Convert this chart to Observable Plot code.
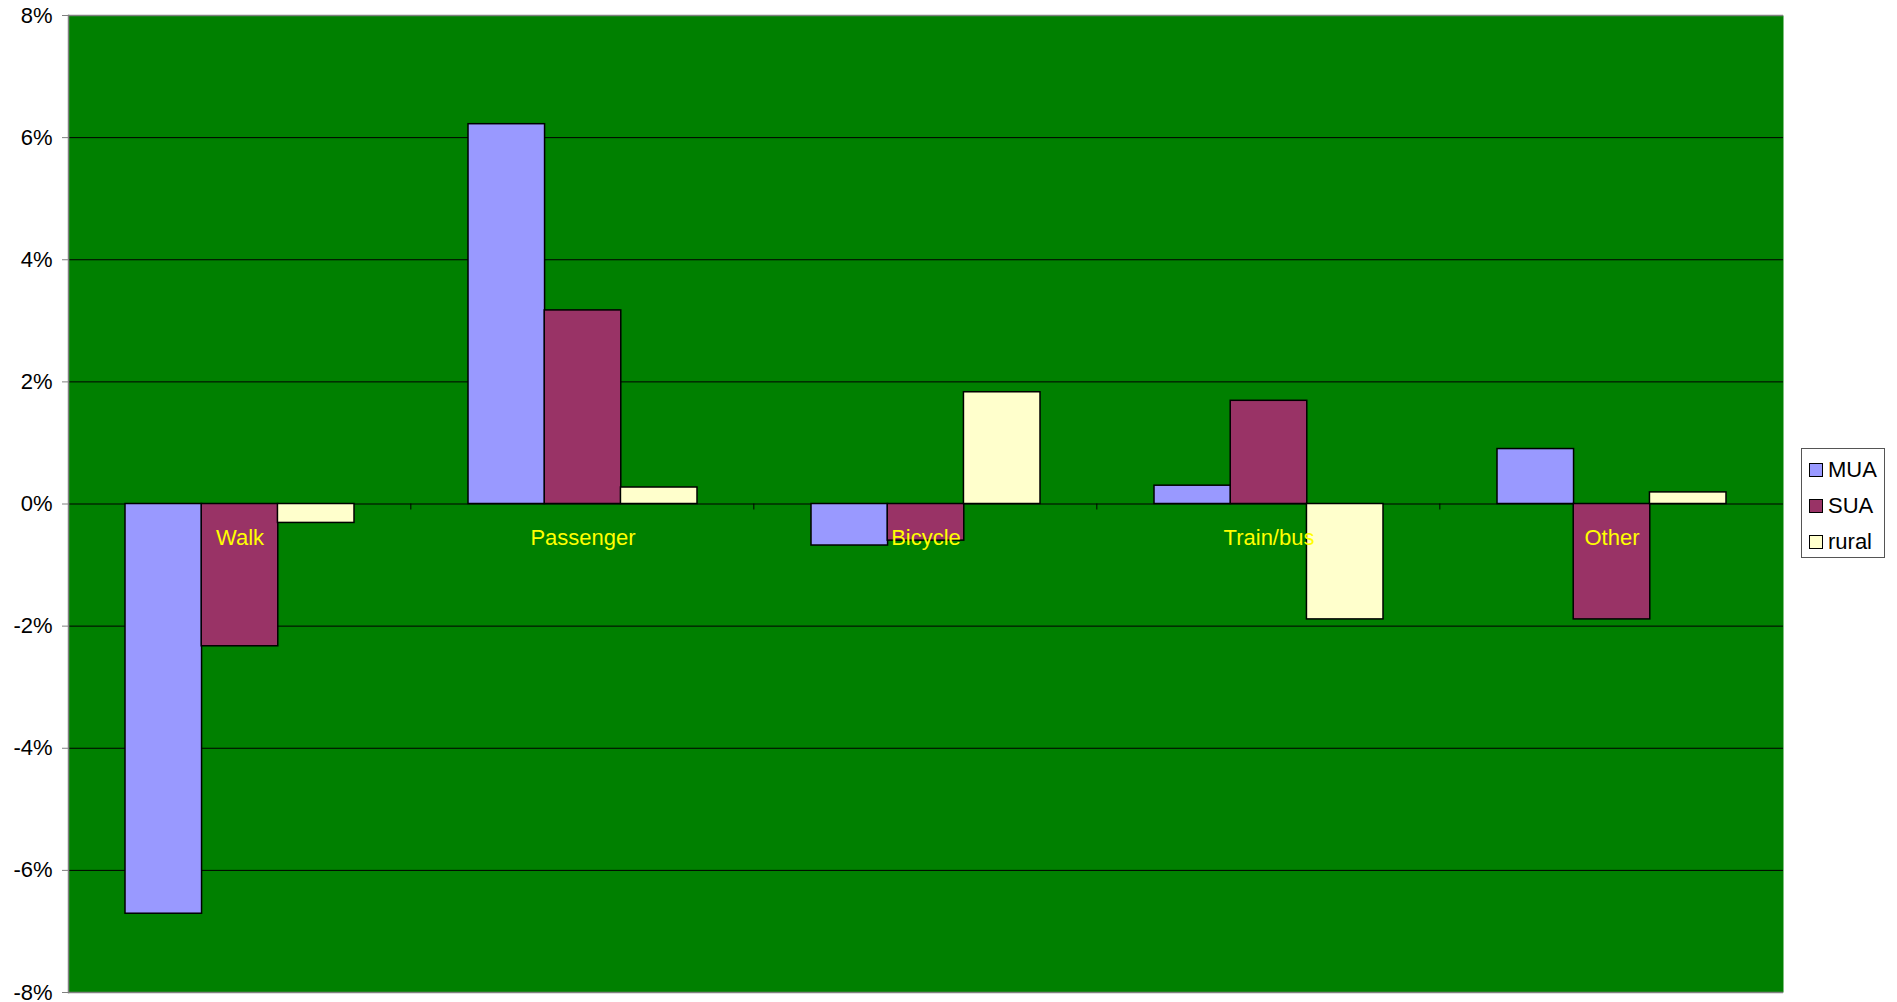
<!DOCTYPE html>
<html>
<head>
<meta charset="utf-8">
<script src="https://cdn.jsdelivr.net/npm/d3@7"></script>
<script src="https://cdn.jsdelivr.net/npm/@observablehq/plot@0.6"></script>
<style>
  html, body { margin: 0; padding: 0; background: #fff; }
  #wrap { position: relative; width: 1897px; height: 1002px; font-family: "Liberation Sans", Arial, sans-serif; }
  #chart svg { overflow: visible; }
  #legend { position: absolute; left: 1801px; top: 448px; width: 82px; height: 108px; border: 1px solid #555; background: #fff; box-sizing: content-box; }
  .item { position: absolute; left: 7px; height: 24px; display: flex; align-items: center; font-size: 22px; color: #000; }
  .sw { width: 12px; height: 12px; border: 1px solid #000; margin-right: 5px; }
</style>
</head>
<body>
<div id="wrap"><div id="chart"></div><div id="legend"></div></div>
<script>
const categories = ["Walk", "Passenger", "Bicycle", "Train/bus", "Other"];
const seriesNames = ["MUA", "SUA", "rural"];
const mua   = [-6.71, 6.22, -0.68, 0.30, 0.90];
const sua   = [-2.33, 3.17, -0.60, 1.69, -1.89];
const rural = [-0.31, 0.27, 1.83, -1.89, 0.19];
const yTicks = [-8, -6, -4, -2, 0, 2, 4, 6, 8];
const gridValues = [-6, -4, -2, 0, 2, 4, 6];
const colors = {MUA: "#9999FF", SUA: "#993366", rural: "#FFFFCC"};

const W = 1897, H = 1002;
const mL = 68, mR = 114, mT = 15, mB = 10;
const step = (W - mL - mR) / categories.length;
const bandW = step * (2 / 3);
const bw = bandW / 3;

const seriesValues = {MUA: mua, SUA: sua, rural: rural};
const tables = seriesNames.map(s => categories.map((c, i) => ({cat: c, series: s, value: seriesValues[s][i]})));

const insets = [
  {insetLeft: 0, insetRight: 2 * bw},
  {insetLeft: bw, insetRight: bw},
  {insetLeft: 2 * bw, insetRight: 0}
];

function boundaryTicks(index, scales, values, dimensions) {
  const g = document.createElementNS("http://www.w3.org/2000/svg", "g");
  const y0 = scales.y(0);
  for (let i = 0; i < categories.length - 1; i++) {
    const xb = (scales.x(categories[i]) + scales.x(categories[i + 1]) + bandW) / 2;
    const l = document.createElementNS("http://www.w3.org/2000/svg", "line");
    l.setAttribute("x1", xb); l.setAttribute("x2", xb);
    l.setAttribute("y1", y0); l.setAttribute("y2", y0 + 6);
    l.setAttribute("stroke", "#000");
    g.appendChild(l);
  }
  return g;
}

const chart = Plot.plot({
  width: W, height: H,
  marginLeft: mL, marginRight: mR, marginTop: mT, marginBottom: mB,
  style: {fontFamily: "'Liberation Sans', Arial, sans-serif", fontSize: "22px", background: "white", color: "black", overflow: "visible"},
  x: {domain: categories, paddingInner: 1 / 3, paddingOuter: 1 / 6, axis: null},
  y: {domain: [-8, 8], label: null},
  marks: [
    Plot.frame({fill: "#008000"}),
    Plot.ruleY(gridValues, {stroke: "#000", strokeWidth: 1}),
    Plot.ruleY([-8, 8], {stroke: "#808080", strokeWidth: 1.5}),
    Plot.frame({anchor: "left", stroke: "#808080", strokeWidth: 1.5}),
    boundaryTicks,
    ...tables.map((t, k) => Plot.barY(t, {
      x: "cat", y: "value", fill: colors[seriesNames[k]],
      stroke: "#000", strokeWidth: 1.5, ...insets[k]
    })),
    Plot.text(categories, {x: d => d, y: () => 0, dy: 34, text: d => d, fill: "#FFFF00", fontSize: 22}),
    Plot.axisY({ticks: yTicks, tickFormat: d => d + "%", tickSize: 6, tickPadding: 10, stroke: "#808080", fontSize: 22, label: null})
  ]
});
document.getElementById("chart").appendChild(chart);

const legend = document.getElementById("legend");
seriesNames.forEach((s, i) => {
  const it = document.createElement("div");
  it.className = "item";
  it.style.top = (9 + i * 36) + "px";
  const sw = document.createElement("span");
  sw.className = "sw";
  sw.style.background = colors[s];
  const tx = document.createElement("span");
  tx.textContent = s;
  it.appendChild(sw); it.appendChild(tx);
  legend.appendChild(it);
});
</script>
</body>
</html>
